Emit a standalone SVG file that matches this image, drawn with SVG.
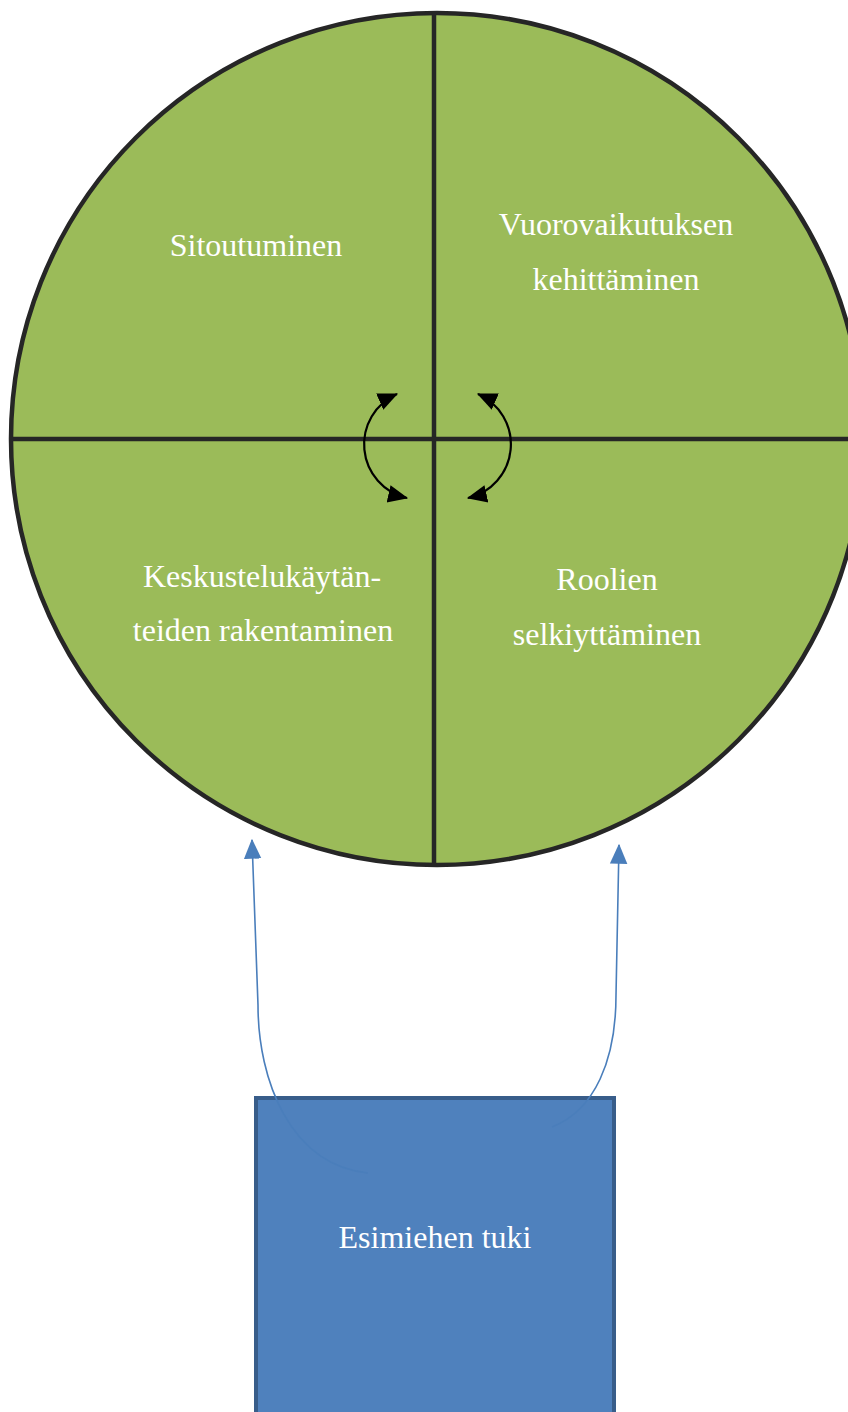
<svg xmlns="http://www.w3.org/2000/svg" width="848" height="1412" viewBox="0 0 848 1412">
<defs>
<style>
.lbl{font-family:"Liberation Serif","Times New Roman",serif;font-size:32px;fill:#ffffff;text-anchor:middle}
.div{stroke:#262626;stroke-width:4.5;fill:none}
.cyc{stroke:#000000;stroke-width:2.2;fill:none}
.sup{stroke:#4a7ebb;stroke-width:1.6;fill:none}
</style>
<marker id="ah" markerUnits="userSpaceOnUse" markerWidth="20" markerHeight="20" viewBox="0 0 18 16" refX="17" refY="8" orient="auto-start-reverse">
<path d="M0,0 L18,8 L0,16 Z" fill="#000000"/>
</marker>
<marker id="bh" markerUnits="userSpaceOnUse" markerWidth="20" markerHeight="20" viewBox="0 0 16 14" refX="15" refY="7" orient="auto">
<path d="M0,0 L16,7 L0,14 Z" fill="#4a7ebb"/>
</marker>
</defs>
<rect width="848" height="1412" fill="#ffffff"/>
<g id="circle">
<circle cx="437" cy="439" r="426" fill="#9bbb59" stroke="#262626" stroke-width="4.5"/>
<line class="div" x1="434" y1="13" x2="434" y2="865"/>
<line class="div" x1="12" y1="439" x2="864" y2="439"/>
</g>
<g id="q1"><text class="lbl" x="256" y="256">Sitoutuminen</text></g>
<g id="q2"><text class="lbl" x="616" y="235">Vuorovaikutuksen</text><text class="lbl" x="616" y="290">kehittäminen</text></g>
<g id="q3"><text class="lbl" x="262" y="587">Keskustelukäytän-</text><text class="lbl" x="263" y="641">teiden rakentaminen</text></g>
<g id="q4"><text class="lbl" x="607" y="590">Roolien</text><text class="lbl" x="607" y="645">selkiyttäminen</text></g>
<g id="support">
<rect x="256" y="1098" width="358" height="340" fill="#4f81bd" stroke="#385d8a" stroke-width="4"/>
<text class="lbl" x="435" y="1248">Esimiehen tuki</text>
</g>
<g id="connectors">
<path class="cyc" d="M397,394 A55,55 0 0 0 407,498" marker-start="url(#ah)" marker-end="url(#ah)"/>
<path class="cyc" d="M478,394 A55,55 0 0 1 468,498" marker-start="url(#ah)" marker-end="url(#ah)"/>
<path class="sup" d="M368,1173 C290,1165 258,1080 258,1005 L252,840" marker-end="url(#bh)"/>
<path class="sup" d="M552,1127 C595,1110 616,1060 616,995 L619,845" marker-end="url(#bh)"/>
</g>
</svg>
